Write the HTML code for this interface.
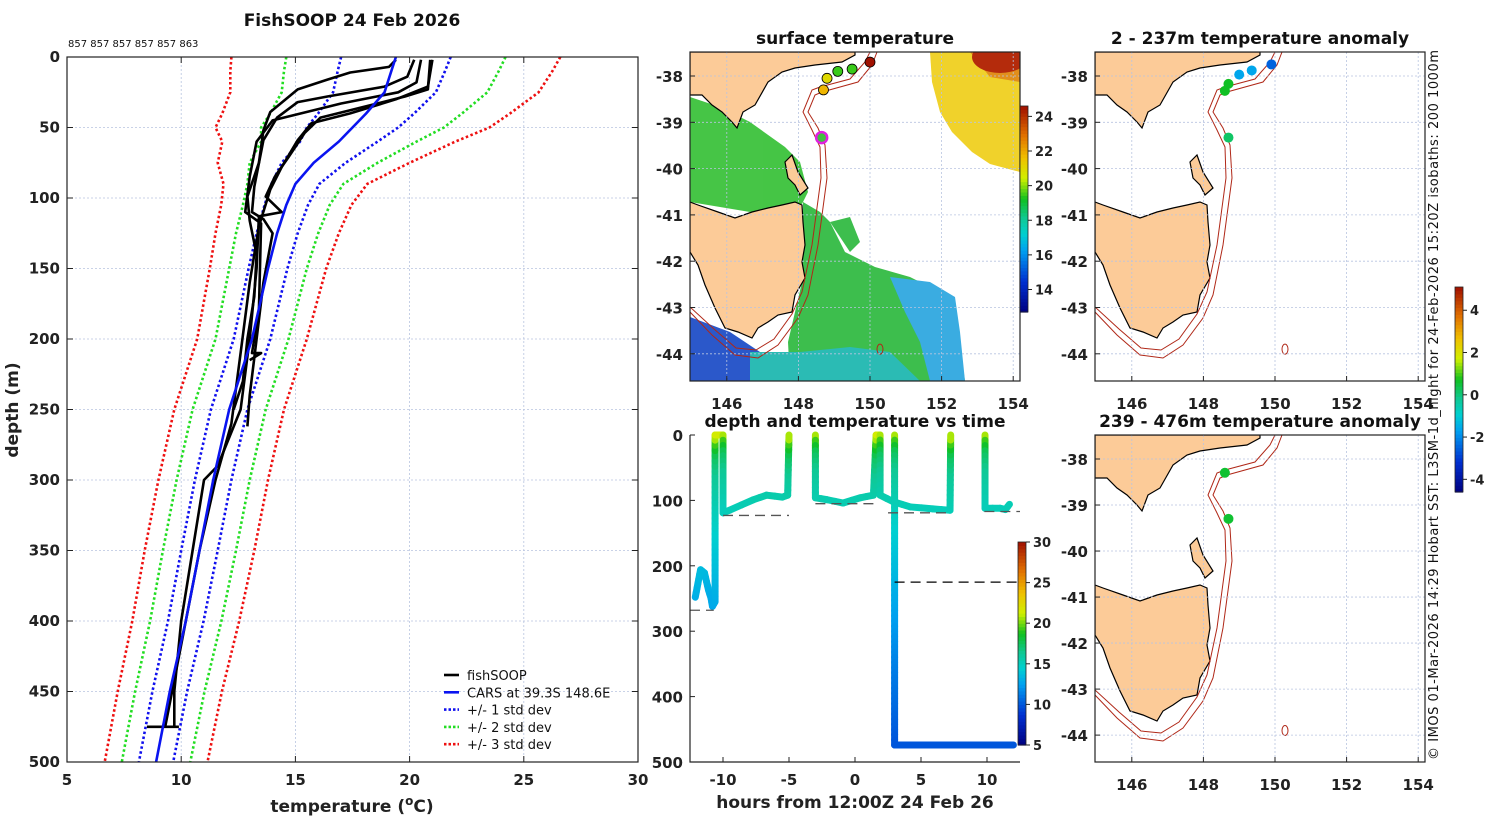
<!DOCTYPE html>
<html><head><meta charset="utf-8"><style>
body{margin:0;background:#fff;}
svg{display:block;font-family:"DejaVu Sans","Liberation Sans",sans-serif;}
.tk{font-weight:bold;font-size:15px;fill:#222;}
.ttl{font-weight:bold;font-size:17px;fill:#111;}
.grid{stroke:#b8c4e0;stroke-width:0.8;stroke-dasharray:2,2;}
.ax{fill:none;stroke:#222;stroke-width:1.2;}
</style></head><body>
<svg id="fig" width="1500" height="820" viewBox="0 0 1500 820" xmlns="http://www.w3.org/2000/svg">
<text class="ttl" x="352" y="26" text-anchor="middle">FishSOOP 24 Feb 2026</text>
<text x="68" y="47" font-size="10" fill="#111">857 857 857 857 857 863</text>
<g id="prof"></g>
<g id="tchart"></g>
<g id="maps"></g>
<text x="1438" y="760" font-size="13" fill="#111" textLength="710" lengthAdjust="spacing" transform="rotate(-90 1438 760)">© IMOS 01-Mar-2026 14:29 Hobart SST: L3SM-1d_night for 24-Feb-2026 15:20Z isobaths: 200  1000m</text>
</svg>
<script>
// ---------- profile chart data ----------
const carsDepth=[0,10,25,40,50,60,75,90,105,125,150,200,250,300,350,400,450,500];
const carsMean=[19.4,19.2,18.9,18.1,17.5,16.9,15.8,15.0,14.6,14.2,13.8,13.1,12.1,11.4,10.8,10.2,9.5,8.9];
const carsStd=[2.4,2.35,2.25,2.1,2.0,1.7,1.4,1.05,0.95,0.9,0.85,0.8,0.8,0.8,0.8,0.78,0.76,0.75];
const cast1=[[19.4,2],[19.1,7],[17.4,11],[16.4,16],[15.1,23],[13.9,39],[13.6,52],[13.4,75],[12.9,99],[13.0,116],[13.3,140],[13.2,170],[12.9,200],[12.7,230],[12.3,250]];
const cast2=[[20.2,2],[19.9,14],[18.9,21],[16.4,28],[15.1,32],[14.2,43],[13.6,59],[13.2,92],[13.1,110],[13.6,115],[14.0,125],[13.6,160],[13.3,200],[13.0,240],[12.9,262]];
const cast3=[[20.9,2],[20.8,23],[19.8,28],[18.1,35],[16.1,43],[15.4,54],[14.7,71],[14.1,85],[13.7,99],[14.4,110],[13.4,113],[13.3,150],[13.0,200],[12.6,250],[11.6,290],[11.0,300],[10.5,350],[10.0,400],[9.7,450],[9.7,475]];
const cast4=[[21.0,2],[20.8,21],[19.4,30],[17.4,40],[15.7,47],[15.1,59],[14.4,78],[13.9,94],[13.4,120],[13.0,160],[12.6,210],[12.2,260],[11.5,300],[10.8,350],[10.2,400],[9.6,450],[9.3,475]];
const cast5=[[20.5,2],[20.3,18],[19.5,25],[17.0,33],[14.0,45],[13.3,60],[13.0,85],[12.8,110],[13.5,118],[13.4,180],[13.1,210],[13.5,210],[13.0,215]];
const cast6=[[8.5,475],[9.9,475]];
const tempTicks=[5,10,15,20,25,30];
const depthTicks=[0,50,100,150,200,250,300,350,400,450,500];
// ---------- depth-time data ----------
const timeH=[-12.1,-11.7,-11.4,-11.1,-10.9,-10.8,-10.6,-10.6,-10.0,-10.0,-9.5,-7.7,-6.7,-5.5,-5.1,-5.0,null,-3.0,-3.0,-2.1,-0.9,0.4,1.4,1.6,1.9,1.9,2.9,4.2,5.9,7.2,7.25,null,3.0,3.0,12.0,null,9.85,9.85,11.0,11.4,11.7];
const depthM=[248,206,211,237,250,262,255,0,0,119,115,99,92,95,92,0,null,0,96,99,104,96,92,0,0,92,102,110,113,115,0,null,0,474,474,null,0,112,112,114,106];
const profDepth=[0,10,30,60,100,150,250,350,475];
const profTemp=[21.5,19.5,17.5,16.3,15.5,14.5,13,11.5,10];
const bottomLinesT0=[-12.5,-10,-3,2.5,3,9.8];
const bottomLinesT1=[-10.7,-5,1.5,7.2,12.5,12.5];
const bottomLinesD=[268,123,105,119,225,117];
const hourTicks=[-10,-5,0,5,10];
const tDepthTicks=[0,100,200,300,400,500];
const tColorTicks=[5,10,15,20,25,30];
// ---------- map data ----------
const lonTicks=[146,148,150,152,154];
const latTicks=[-38,-39,-40,-41,-42,-43,-44];
const sstTicks=[14,16,18,20,22,24];
const anomTicks=[-4,-2,0,2,4];
const sstPtLon=[150.0,149.5,149.1,148.8,148.7];
const sstPtLat=[-37.7,-37.85,-37.9,-38.05,-38.3];
const sstPtTemp=[26,19.5,19.5,21.0,21.8];
const anomTopLon=[149.9,149.35,149.0,148.7,148.6,148.7];
const anomTopLat=[-37.75,-37.88,-37.97,-38.17,-38.32,-39.33];
const anomTopVal=[-2.5,-1.6,-1.6,0.7,0.7,0.2];
const anomBotLon=[148.6,148.7];
const anomBotLat=[-38.3,-39.3];
const anomBotVal=[0.6,0.6];

const NS="http://www.w3.org/2000/svg";
function el(tag,attrs,parent){const e=document.createElementNS(NS,tag);for(const k in attrs)e.setAttribute(k,attrs[k]);parent.appendChild(e);return e;}
const cmapStops=[[0,[0,0,128]],[0.15,[0,48,208]],[0.3,[0,160,240]],[0.38,[0,208,208]],[0.46,[16,200,144]],[0.55,[16,192,32]],[0.65,[208,240,0]],[0.75,[240,192,0]],[0.86,[224,112,0]],[1,[160,16,0]]];
function jet(v){v=Math.max(0,Math.min(1,v));for(let i=1;i<cmapStops.length;i++){if(v<=cmapStops[i][0]){const a=cmapStops[i-1],b=cmapStops[i];const f=(v-a[0])/(b[0]-a[0]);const c=a[1].map((x,k)=>Math.round(x+(b[1][k]-x)*f));return `rgb(${c[0]},${c[1]},${c[2]})`;}}return 'rgb(160,16,0)';}

// ===== profile chart =====
const P=document.getElementById('prof');
const px=T=>67+(T-5)*22.84, py=d=>57+d*1.41;
tempTicks.forEach(t=>{const g=el('line',{x1:px(t),x2:px(t),y1:57,y2:762,class:'grid'},P);
 const l=el('text',{x:px(t),y:785,class:'tk','text-anchor':'middle'},P);l.textContent=t;
 el('line',{x1:px(t),x2:px(t),y1:762,y2:756,stroke:'#222'},P);el('line',{x1:px(t),x2:px(t),y1:57,y2:63,stroke:'#222'},P);});
depthTicks.forEach(d=>{const g=el('line',{x1:67,x2:638,y1:py(d),y2:py(d),class:'grid'},P);
 const l=el('text',{x:60,y:py(d)+5,class:'tk','text-anchor':'end'},P);l.textContent=d;
 el('line',{x1:67,x2:73,y1:py(d),y2:py(d),stroke:'#222'},P);el('line',{x1:632,x2:638,y1:py(d),y2:py(d),stroke:'#222'},P);});
function pline(pts,st){const p=el('polyline',Object.assign({points:pts.map(q=>px(q[0]).toFixed(1)+','+py(q[1]).toFixed(1)).join(' '),fill:'none'},st),P);return p;}
const dotStyles=[[1,'#1010ee'],[2,'#22dd22'],[3,'#ee1010']];
dotStyles.forEach(([k,c])=>{[-1,1].forEach(s=>{const p=pline(carsDepth.map((d,i)=>[carsMean[i]+s*k*carsStd[i],d]),{stroke:c,'stroke-width':2.6,'stroke-dasharray':'2.5,2.5'});});});
[cast1,cast2,cast3,cast4,cast5,cast6].forEach(c=>{const p=pline(c,{stroke:'#000','stroke-width':2.6,'stroke-linejoin':'round'});});
const cm=pline(carsDepth.map((d,i)=>[carsMean[i],d]),{stroke:'#0a14f0','stroke-width':2.6});
el('rect',{x:67,y:57,width:571,height:705,class:'ax'},P);
const leg=[['fishSOOP','#000',''],['CARS at 39.3S 148.6E','#0a14f0',''],['+/- 1 std dev','#1010ee','2.5,2'],['+/- 2 std dev','#22dd22','2.5,2'],['+/- 3 std dev','#ee1010','2.5,2']];
leg.forEach((e,i)=>{const y=675+i*17.3;const g=el('g',{},P);
 el('line',{x1:444,x2:459,y1:y,y2:y,stroke:e[1],'stroke-width':2.6,'stroke-dasharray':e[2]||'none'},g);
 const t=el('text',{x:467,y:y+5,'font-size':13,fill:'#111'},g);t.textContent=e[0];});
let t=el('text',{x:0,y:0,'font-weight':'bold','font-size':17,fill:'#222','text-anchor':'middle',transform:'translate(18,410) rotate(-90)'},P);t.textContent='depth (m)';
t=el('text',{x:352,y:812,'font-weight':'bold','font-size':17,fill:'#222','text-anchor':'middle'},P);t.innerHTML='temperature (<tspan font-size="12" dy="-7">o</tspan><tspan dy="7">C)</tspan>';

// ===== depth-time chart =====
const C=document.getElementById('tchart');
const tx=h=>855+h*13.2, ty=d=>435+d*0.654;
function interp(xs,ys,x){if(x<=xs[0])return ys[0];for(let i=1;i<xs.length;i++)if(x<=xs[i])return ys[i-1]+(ys[i]-ys[i-1])*(x-xs[i-1])/(xs[i]-xs[i-1]);return ys[ys.length-1];}
const tcol=d=>jet((interp(profDepth,profTemp,d)-5)/25);
for(let i=1;i<timeH.length;i++){if(timeH[i]===null||timeH[i-1]===null)continue;
 const n=Math.max(2,Math.ceil(Math.abs(depthM[i]-depthM[i-1])/8));
 for(let j=0;j<n;j++){const a=j/n,b=(j+1)/n;const h0=timeH[i-1]+(timeH[i]-timeH[i-1])*a,h1=timeH[i-1]+(timeH[i]-timeH[i-1])*b;const d0=depthM[i-1]+(depthM[i]-depthM[i-1])*a,d1=depthM[i-1]+(depthM[i]-depthM[i-1])*b;
  const s=el('line',{x1:tx(h0),y1:ty(d0),x2:tx(h1),y2:ty(d1),stroke:tcol((d0+d1)/2),'stroke-width':7,'stroke-linecap':'round'},C);}}
bottomLinesD.forEach((d,i)=>{const l=el('line',{x1:tx(bottomLinesT0[i]),x2:tx(bottomLinesT1[i]),y1:ty(d),y2:ty(d),stroke:i==4?'#000':'#555','stroke-width':1.3,'stroke-dasharray':'10,6'},C);});
el('path',{d:'M690,435 V762 H1020',class:'ax'},C);
hourTicks.forEach(h=>{el('line',{x1:tx(h),x2:tx(h),y1:762,y2:757,stroke:'#222'},C);const l=el('text',{x:tx(h),y:785,class:'tk','text-anchor':'middle'},C);l.textContent=h;});
tDepthTicks.forEach(d=>{el('line',{x1:690,x2:695,y1:ty(d),y2:ty(d),stroke:'#222'},C);const l=el('text',{x:683,y:ty(d)+6,class:'tk','text-anchor':'end'},C);l.textContent=d;});
t=el('text',{x:855,y:427,class:'ttl','text-anchor':'middle'},C);t.textContent='depth and temperature vs time';
t=el('text',{x:855,y:808,'font-weight':'bold','font-size':17,fill:'#222','text-anchor':'middle'},C);t.textContent='hours from 12:00Z 24 Feb 26';
function colorbar(par,x,y0,y1,vmin,vmax,ticks,name){const g=el('g',{},par);
 const N=60;for(let i=0;i<N;i++){el('rect',{x:x,y:y1-(i+1)*(y1-y0)/N,width:8,height:(y1-y0)/N+0.6,fill:jet((i+0.5)/N)},g);}
 el('rect',{x:x,y:y0,width:8,height:y1-y0,fill:'none',stroke:'#222','stroke-width':0.8},g);
 ticks.forEach(v=>{const y=y1-(v-vmin)/(vmax-vmin)*(y1-y0);el('line',{x1:x+8,x2:x+12,y1:y,y2:y,stroke:'#222'},g);const l=el('text',{x:x+15,y:y+5,'font-weight':'bold','font-size':13,fill:'#222'},g);l.textContent=v;});}
colorbar(C,1018,542,745,5,30,tColorTicks,'time-colorbar');

// ===== maps =====
const M=document.getElementById('maps');
const vic=[[0,0],[165,0],[165,3],[152,10],[125,13],[105,16],[92,20],[78,30],[65,53],[53,60],[47,76],[42,70],[32,60],[22,53],[12,43],[0,43]];
const tas=[[0,150],[8,153],[28,160],[45,166],[62,160],[78,156],[92,153],[105,150],[112,153],[113,170],[115,193],[112,210],[115,226],[105,243],[102,260],[88,263],[78,270],[68,276],[62,286],[48,280],[35,276],[25,256],[15,233],[8,213],[0,200]];
const flin=[[95,110],[102,103],[108,120],[118,136],[110,143],[105,133],[98,126]];
const iso1=[[187,0],[182,13],[168,30],[132,40],[125,43],[118,60],[128,76],[135,93],[137,126],[128,193],[118,243],[108,266],[88,293],[68,306],[45,303],[22,283],[0,260]];
const iso2=[[180,0],[175,10],[160,27],[130,35],[122,38],[113,60],[122,78],[130,95],[131,126],[122,193],[112,240],[102,262],[84,287],[66,298],[46,296],[24,277],[0,255]];
const pts=a=>a.map(p=>p.join(',')).join(' ');
function map(x0,y0,h,title,sst,lons,lats,vals,vmin,vmax,name,showX){
 const g=el('g',{transform:`translate(${x0},${y0})`},M);
 const mx=lon=>1+(lon-145)*35.8, my=lat=>24+(-38-lat)*46.3*(h/329);
 const cp=el('clipPath',{id:'c'+name},g);el('rect',{width:330,height:h},cp);
 const inner=el('g',{'clip-path':`url(#c${name})`},g);
 if(sst){const f=el('g',{opacity:0.95},inner);
  el('polygon',{points:'240,0 330,0 330,120 300,112 282,100 262,80 250,60 242,30',fill:'#f0d020'},f);
  el('polygon',{points:'280,0 330,0 330,30 300,25',fill:'#e08a10'},f);
  el('ellipse',{cx:310,cy:5,rx:28,ry:16,fill:'#b02000'},f);
  el('polygon',{points:'0,45 30,55 60,70 95,95 110,110 118,140 112,152 60,160 0,150',fill:'#3cc23c'},f);
  el('polygon',{points:'113,150 130,160 140,170 155,200 185,215 220,225 250,240 265,260 275,329 100,329 98,290 105,260 112,230',fill:'#33bb44'},f);
  el('polygon',{points:'200,225 240,230 265,245 270,280 275,329 240,329 230,290 215,260',fill:'#30a8e0'},f);
  el('polygon',{points:'0,265 40,280 70,300 90,315 110,329 0,329',fill:'#2050c8'},f);
  el('polygon',{points:'60,300 110,300 160,295 200,300 230,329 60,329',fill:'#20b8b0'},f);
  el('polygon',{points:'140,170 160,165 170,190 160,200',fill:'#33bb44'},f);}
 lonTicks.forEach(l=>{el('line',{x1:mx(l),x2:mx(l),y1:0,y2:h,class:'grid'},g);});
 latTicks.forEach(l=>{el('line',{x1:0,x2:330,y1:my(l),y2:my(l),class:'grid'},g);});
 [vic,tas,flin].forEach(s=>{const p=el('polygon',{points:pts(s),fill:'#fccb98',stroke:'#000','stroke-width':1.2},inner);});
 [iso1,iso2].forEach(s=>{const p=el('polyline',{points:pts(s),fill:'none',stroke:'#b02818','stroke-width':1},inner);});
 el('ellipse',{cx:190,cy:my(-43.9),rx:3,ry:5,fill:'none',stroke:'#b02818'},inner);
 lons.forEach((lo,i)=>{const c=el('circle',{cx:mx(lo),cy:my(lats[i]),r:5,fill:jet((vals[i]-vmin)/(vmax-vmin)),stroke:sst?'#000':'none','stroke-width':0.8},g);});
 el('rect',{x:0,y:0,width:330,height:h,class:'ax'},g);
 lonTicks.forEach(l=>{el('line',{x1:mx(l),x2:mx(l),y1:h,y2:h-5,stroke:'#222'},g);if(showX){const t=el('text',{x:mx(l),y:h+28,class:'tk','text-anchor':'middle'},g);t.textContent=l;}});
 latTicks.forEach(l=>{el('line',{x1:0,x2:5,y1:my(l),y2:my(l),stroke:'#222'},g);const t=el('text',{x:-7,y:my(l)+6,class:'tk','text-anchor':'end'},g);t.textContent=l;});
 const tt=el('text',{x:165,y:-8,class:'ttl','text-anchor':'middle'},g);tt.textContent=title;
 return {g,mx,my};}
const sm=map(690,52,329,'surface temperature',true,sstPtLon,sstPtLat,sstPtTemp,12.7,24.6,'sst-map',true);
const ring=el('circle',{cx:sm.mx(148.65),cy:sm.my(-39.33),r:5.5,fill:'#40c040',stroke:'#e020e0','stroke-width':2.5},sm.g);
colorbar(M,1020,106,312,12.7,24.6,sstTicks,'sst-colorbar');
map(1095,52,329,'2 - 237m temperature anomaly',false,anomTopLon,anomTopLat,anomTopVal,-4.6,5.1,'anomaly-map-shallow',true);
map(1095,435,327,'239 - 476m temperature anomaly',false,anomBotLon,anomBotLat,anomBotVal,-4.6,5.1,'anomaly-map-deep',true);
colorbar(M,1455,287,492,-4.6,5.1,anomTicks,'anomaly-colorbar');
</script>
</body></html>
